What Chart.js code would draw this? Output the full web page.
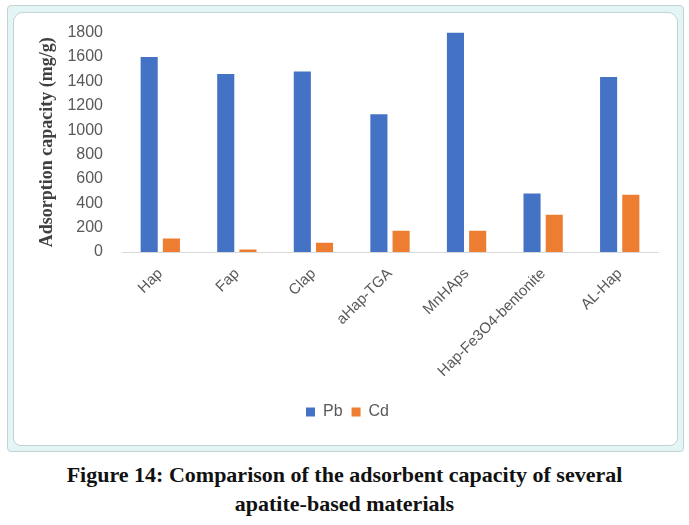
<!DOCTYPE html>
<html>
<head>
<meta charset="utf-8">
<script src="https://cdn.jsdelivr.net/npm/chart.js@4.4.0/dist/chart.umd.min.js"></script>
<style>
    html, body { margin: 0; padding: 0; background: #fff; }
    body { width: 689px; height: 525px; position: relative; overflow: hidden; }
    .frame {
        position: absolute; left: 7px; top: 5px; width: 675px; height: 445px;
        border: 1px solid #c3d3d3; border-radius: 4px; background: #e4f5f5;
    }
    .inner {
        position: absolute; left: 5px; top: 6px; width: 663px; height: 432px;
        border: 1px solid #c3d3d3; border-radius: 10px 10px 8px 8px; background: #fff;
    }
    #chart { position: absolute; left: 13px; top: 12px; }
    .caption {
        position: absolute; left: 0; top: 460px; width: 689px; text-align: center;
        font-family: "Liberation Serif", "Times New Roman", serif; font-weight: bold;
        font-size: 22px; line-height: 29px; color: #111;
    }
</style>
</head>
<body>
<div class="frame"><div class="inner"></div></div>
<canvas id="chart" width="665" height="434"></canvas>
<div class="caption">Figure 14: Comparison of the adsorbent capacity of several<br>apatite-based materials</div>
<script>
    var categories = ['Hap', 'Fap', 'Clap', 'aHap-TGA', 'MnHAps', 'Hap-Fe3O4-bentonite', 'AL-Hap'];
    var pbValues = [1600, 1460, 1480, 1130, 1800, 480, 1435];
    var cdValues = [110, 20, 75, 175, 175, 305, 470];
    var yTicks = [0, 200, 400, 600, 800, 1000, 1200, 1400, 1600, 1800];

    var textGray = '#595959';

    function init() {
        var ctx = document.getElementById('chart');
        new Chart(ctx, {
            type: 'bar',
            data: {
                labels: categories,
                datasets: [
                    { label: 'Pb', data: pbValues, backgroundColor: '#4472C4', categoryPercentage: 0.58, barPercentage: 0.77 },
                    { label: 'Cd', data: cdValues, backgroundColor: '#ED7D31', categoryPercentage: 0.58, barPercentage: 0.77 }
                ]
            },
            options: {
                responsive: false,
                animation: false,
                layout: { padding: { left: 24, right: 20, top: 20, bottom: 16 } },
                plugins: {
                    legend: {
                        position: 'bottom',
                        labels: {
                            color: textGray,
                            boxWidth: 9, boxHeight: 9, padding: 9,
                            font: { family: 'Liberation Sans', size: 16 }
                        }
                    },
                    tooltip: { enabled: false }
                },
                scales: {
                    x: {
                        grid: { display: false },
                        border: { color: '#d9d9d9', width: 1 },
                        ticks: {
                            color: textGray, minRotation: 45, maxRotation: 45, padding: 5,
                            font: { family: 'Liberation Sans', size: 15 }
                        },
                        afterFit: function (s) { s.height = 143; }
                    },
                    y: {
                        min: 0, max: 1800,
                        grid: { display: false },
                        border: { display: false },
                        afterBuildTicks: function (s) {
                            s.ticks = yTicks.map(function (v) { return { value: v }; });
                        },
                        ticks: {
                            color: textGray, padding: 11,
                            font: { family: 'Liberation Sans', size: 16 },
                            callback: function (v) { return String(v); }
                        },
                        title: {
                            display: true,
                            text: 'Adsorption capacity (mg/g)',
                            color: '#404040',
                            padding: 0,
                            font: { family: 'Liberation Serif', size: 18, weight: 'bold' }
                        },
                        afterFit: function (s) { s.width = 85; }
                    }
                }
            }
        });
    }

    init();
</script>
</body>
</html>
